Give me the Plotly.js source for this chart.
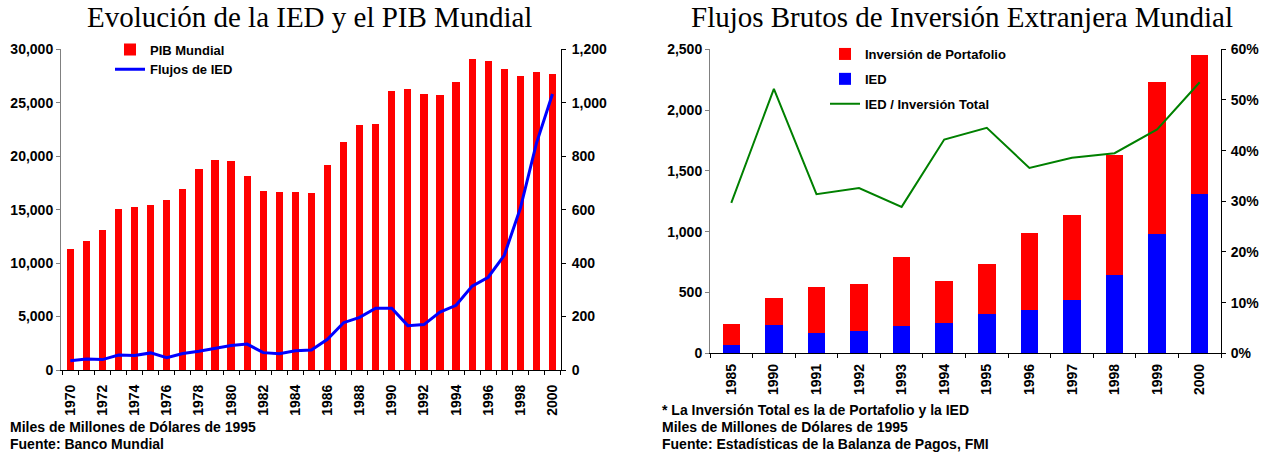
<!DOCTYPE html>
<html>
<head>
<meta charset="utf-8">
<script src="https://cdn.plot.ly/plotly-3.0.1.min.js"></script>
<style>html,body{margin:0;padding:0;background:#fff;}#chart{width:1268px;height:455px;}</style>
</head>
<body>
<div id="chart"></div>
<script>
// ---- Left chart data ----
const years = [1970,1971,1972,1973,1974,1975,1976,1977,1978,1979,1980,1981,1982,1983,1984,1985,1986,1987,1988,1989,1990,1991,1992,1993,1994,1995,1996,1997,1998,1999,2000];
const pibMundial = [11320,12050,13100,15060,15250,15470,15900,16930,18800,19640,19550,18150,16740,16650,16650,16560,19180,21330,22920,23010,26100,26290,25820,25730,26940,29090,28910,28160,27500,27880,27720];
const flujosIED = [35,41,39,56,54,64,46,62,70,82,92,97,65,61,72,75,115,177,197,231,231,166,170,217,242,314,347,429,605,848,1033];

// ---- Right chart data ----
const periodos = ['1985','1990','1991','1992','1993','1994','1995','1996','1997','1998','1999','2000'];
const iedBrutos = [69,233,167,184,225,249,323,356,439,644,984,1310];
const portafolio = [172,222,378,386,567,346,412,634,699,987,1247,1143];
const iedSobreTotal = [0.297,0.522,0.314,0.326,0.289,0.422,0.445,0.366,0.386,0.395,0.442,0.535];

const W = 1268, H = 455;
const px = v => v / W;
const py = v => (H - v) / H;

const tickFont = {family: '"Liberation Sans", Arial, sans-serif', size: 14, color: '#000', weight: 'bold'};
const legendFont = {family: '"Liberation Sans", Arial, sans-serif', size: 13, color: '#000', weight: 'bold'};
const noteFont = {family: '"Liberation Sans Narrow", "Arial Narrow", "Liberation Sans", sans-serif', size: 14, color: '#000', weight: 'bold'};
const titleFont = {family: '"Liberation Serif", "Times New Roman", serif', size: 29, color: '#000'};

const traces = [
  {type: 'bar', x: years, y: pibMundial, name: 'PIB Mundial', xaxis: 'x', yaxis: 'y',
   marker: {color: '#ff0000'}, width: 0.45, legend: 'legend'},
  {type: 'scatter', mode: 'lines', x: years, y: flujosIED, name: 'Flujos de IED', xaxis: 'x', yaxis: 'y2',
   line: {color: '#0000ff', width: 3}, legend: 'legend'},
  {type: 'bar', x: periodos, y: iedBrutos, name: 'IED', xaxis: 'x2', yaxis: 'y3',
   marker: {color: '#0000ff'}, width: 0.41, legend: 'legend2', legendrank: 2, legendgroup: 'b'},
  {type: 'bar', x: periodos, y: portafolio, name: 'Inversión de Portafolio', xaxis: 'x2', yaxis: 'y3',
   marker: {color: '#ff0000'}, width: 0.41, legend: 'legend2', legendrank: 1, legendgroup: 'a'},
  {type: 'scatter', mode: 'lines', x: periodos, y: iedSobreTotal, name: 'IED / Inversión Total', xaxis: 'x2', yaxis: 'y4',
   line: {color: '#008000', width: 2}, legend: 'legend2', legendrank: 3, legendgroup: 'c'}
];

const layout = {
  width: W, height: H,
  margin: {l: 0, r: 0, t: 0, b: 0},
  paper_bgcolor: '#fff', plot_bgcolor: 'rgba(0,0,0,0)',
  barmode: 'stack',
  showlegend: true,
  xaxis: {
    domain: [px(61), px(561)], anchor: 'y', type: 'linear',
    range: [1969.42, 2000.53],
    tickmode: 'linear', tick0: 1970, dtick: 2, ticks: '', tickangle: -90,
    tickformat: 'd', tickfont: tickFont, ticklabelstandoff: 8,
    minor: {tick0: 1969.5, dtick: 1, ticks: 'outside', ticklen: 4, tickcolor: '#000', tickwidth: 1, showgrid: false},
    showline: true, linecolor: '#000', linewidth: 1, showgrid: false, zeroline: false, fixedrange: true
  },
  yaxis: {
    domain: [py(370), py(49.3)], anchor: 'x', range: [0, 30000], dtick: 5000,
    tickformat: ',', tickfont: tickFont, ticks: 'outside', ticklen: 4, tickcolor: '#808080',
    showline: true, linecolor: '#808080', linewidth: 1, showgrid: false, zeroline: false
  },
  yaxis2: {
    overlaying: 'y', side: 'right', anchor: 'x', range: [0, 1200], dtick: 200,
    tickformat: ',', tickfont: tickFont, ticks: 'outside', ticklen: 4, tickcolor: '#000', ticklabelstandoff: 3,
    showline: true, linecolor: '#000', linewidth: 1, showgrid: false, zeroline: false
  },
  xaxis2: {
    domain: [px(710), px(1221)], anchor: 'y3', type: 'category',
    range: [-0.5, 11.5], tickson: 'boundaries', ticks: 'outside', ticklen: 4, tickcolor: '#000',
    tickangle: -90, tickfont: tickFont, ticklabelstandoff: 4,
    showline: true, linecolor: '#000', linewidth: 1, showgrid: false, zeroline: false
  },
  yaxis3: {
    domain: [py(353.3), py(49.3)], anchor: 'x2', range: [0, 2500], dtick: 500,
    tickformat: ',', tickfont: tickFont, ticks: 'outside', ticklen: 4, tickcolor: '#808080',
    showline: true, linecolor: '#808080', linewidth: 1, showgrid: false, zeroline: false
  },
  yaxis4: {
    overlaying: 'y3', side: 'right', anchor: 'x2', range: [0, 0.6], dtick: 0.1,
    tickformat: '.0%', tickfont: tickFont, ticks: 'outside', ticklen: 4, tickcolor: '#000', ticklabelstandoff: 2,
    showline: true, linecolor: '#000', linewidth: 1, showgrid: false, zeroline: false
  },
  legend: {
    x: px(110), y: py(34.5), xanchor: 'left', yanchor: 'top',
    bgcolor: 'rgba(0,0,0,0)', borderwidth: 0, font: legendFont, traceorder: 'normal'
  },
  legend2: {
    x: px(825), y: py(39), xanchor: 'left', yanchor: 'top',
    bgcolor: 'rgba(0,0,0,0)', borderwidth: 0, font: legendFont, traceorder: 'grouped', tracegroupgap: 5
  },
  annotations: [
    {text: 'Evolución de la IED y el PIB Mundial', xref: 'paper', yref: 'paper', x: px(309), y: 1,
     xanchor: 'center', yanchor: 'top', showarrow: false, font: titleFont, borderpad: 0},
    {text: 'Flujos Brutos de Inversión Extranjera Mundial', xref: 'paper', yref: 'paper', x: px(962), y: 1,
     xanchor: 'center', yanchor: 'top', showarrow: false, font: titleFont, borderpad: 0},
    {text: 'Miles de Millones de Dólares de 1995', xref: 'paper', yref: 'paper', x: px(8), y: py(427),
     xanchor: 'left', yanchor: 'middle', showarrow: false, font: noteFont},
    {text: 'Fuente: Banco Mundial', xref: 'paper', yref: 'paper', x: px(8), y: py(444),
     xanchor: 'left', yanchor: 'middle', showarrow: false, font: noteFont},
    {text: '* La Inversión Total es la de Portafolio y la IED', xref: 'paper', yref: 'paper', x: px(660), y: py(410),
     xanchor: 'left', yanchor: 'middle', showarrow: false, font: noteFont},
    {text: 'Miles de Millones de Dólares de 1995', xref: 'paper', yref: 'paper', x: px(660), y: py(427),
     xanchor: 'left', yanchor: 'middle', showarrow: false, font: noteFont},
    {text: 'Fuente: Estadísticas de la Balanza de Pagos, FMI', xref: 'paper', yref: 'paper', x: px(660), y: py(444),
     xanchor: 'left', yanchor: 'middle', showarrow: false, font: noteFont}
  ]
};

Plotly.newPlot('chart', traces, layout, {displayModeBar: false, staticPlot: true});
</script>
</body>
</html>
